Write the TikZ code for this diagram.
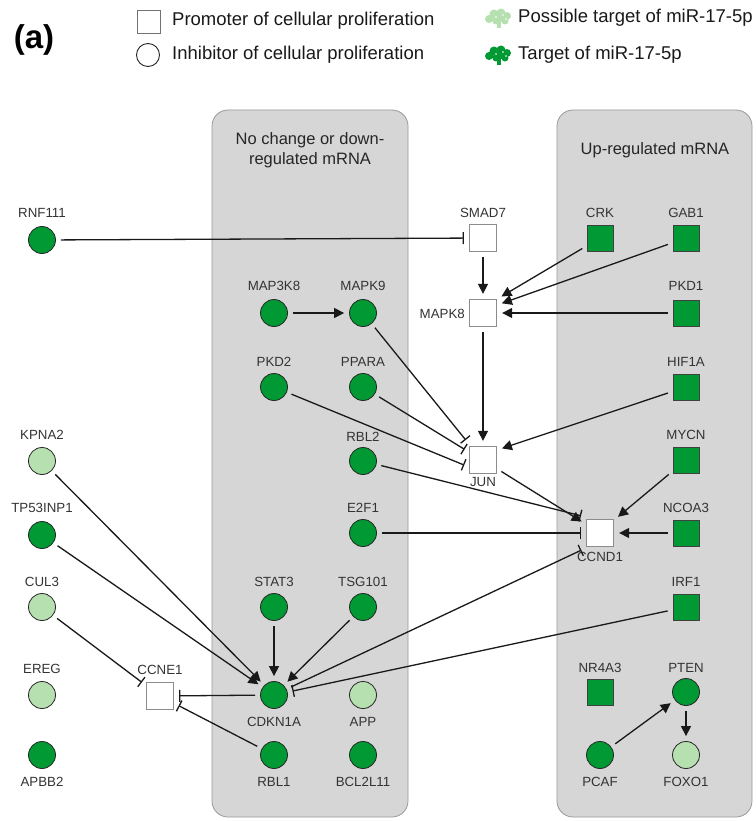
\documentclass[tikz,border=0pt]{standalone}
\usepackage{fontspec}
\setmainfont{Liberation Sans}
\usetikzlibrary{arrows.meta,calc}
\definecolor{gdark}{RGB}{0,153,51}
\definecolor{glight}{RGB}{183,224,176}
\definecolor{panelfill}{RGB}{214,214,214}
\definecolor{labgray}{RGB}{51,51,51}
\tikzset{
  gc/.style={circle,draw=black!85,fill=gdark,minimum size=27pt,inner sep=0pt,line width=0.8pt},
  lc/.style={gc,fill=glight},
  gs/.style={rectangle,draw=black!75,fill=gdark,minimum size=26pt,inner sep=0pt,line width=0.8pt},
  ws/.style={rectangle,draw=black!45,fill=white,minimum size=27pt,inner sep=0pt,line width=1.3pt},
  lab/.style={font=\fontsize{13.3}{14}\selectfont,text=labgray,inner sep=0pt},
  panel/.style={rounded corners=16pt,fill=panelfill,draw=black!40,line width=0.8pt},
  act/.style={-{Triangle[length=10pt,width=10pt]},line width=1.3pt,draw=black!90,shorten >=5pt,shorten <=5pt},
  inh/.style={-{Bar[width=12pt,line width=1.3pt]},line width=1.3pt,draw=black!90,shorten >=5pt,shorten <=5pt},
  legtext/.style={font=\fontsize{18.5}{20}\selectfont,anchor=west,inner sep=0pt,text=black!90},
}
\newcommand\gn[6]{\node[#1] (#2) at (#3,#4) {}; \node[lab] (#2-l) at (#3,#5) {#6};}
\begin{document}
\begin{tikzpicture}[x=1pt,y=-1pt]
\useasboundingbox (0,0) rectangle (755,821);
% panels
\path[panel] (212,110) rectangle (408,817);
\path[panel] (557,110) rectangle (752,817);
\node[font=\fontsize{16.5}{20}\selectfont,align=center,text=black!85] (t1) at (310,150) {No change or down-\\regulated mRNA};
\node[font=\fontsize{16.5}{20}\selectfont,text=black!85] (t2) at (655,150) {Up-regulated mRNA};
% legend
\node[font=\bfseries\fontsize{33}{34}\selectfont] (a) at (34,40) {(a)};
\node[rectangle,draw=black!55,fill=white,minimum size=23pt,line width=0.9pt,inner sep=0pt] (lsq) at (149,22) {};
\node[legtext] (lsqt) at (172,21) {Promoter of cellular proliferation};
\node[circle,draw=black!85,fill=white,minimum size=23pt,line width=0.9pt,inner sep=0pt] (lci) at (148,55) {};
\node[legtext] (lcit) at (172,55) {Inhibitor of cellular proliferation};
\foreach \yy/\cc in {18/glight,55/gdark}{
  \fill[\cc] (489,\yy+1) circle (4) (494,\yy-4) circle (4.5) (501,\yy-5) circle (4.5) (507,\yy-2) circle (4) (505,\yy+3) circle (3.5) (496,\yy+3) circle (3.5) (501,\yy) circle (4);
  \fill[\cc] (497,\yy+3) rectangle (501,\yy+10);
  \fill[white] (496,\yy-1) circle (0.9) (503,\yy-3) circle (0.9) (506,\yy+1) circle (0.8);
}
\node[legtext] (lpt) at (518,18) {Possible target of miR-17-5p};
\node[legtext] (ltt) at (518,55) {Target of miR-17-5p};
% genes
\gn{gc}{rnf111}{42}{240}{213}{RNF111}
\gn{ws}{smad7}{483}{238}{213}{SMAD7}
\gn{gs}{crk}{600}{238}{213}{CRK}
\gn{gs}{gab1}{686}{238}{213}{GAB1}
\gn{gc}{map3k8}{274}{313}{286}{MAP3K8}
\gn{gc}{mapk9}{363}{313}{286}{MAPK9}
\node[ws] (mapk8) at (483,313) {};
\node[lab,anchor=east] (mapk8-l) at (465,314) {MAPK8};
\gn{gs}{pkd1}{686}{313}{286}{PKD1}
\gn{gc}{pkd2}{274}{387}{362}{PKD2}
\gn{gc}{ppara}{363}{387}{362}{PPARA}
\gn{gs}{hif1a}{686}{387}{362}{HIF1A}
\gn{lc}{kpna2}{42}{461}{435}{KPNA2}
\gn{gc}{rbl2}{363}{461}{437}{RBL2}
\gn{ws}{jun}{483}{460}{482}{JUN}
\gn{gs}{mycn}{686}{460}{435}{MYCN}
\gn{gc}{tp53inp1}{42}{535}{508}{TP53INP1}
\gn{gc}{e2f1}{363}{533}{508}{E2F1}
\gn{ws}{ccnd1}{600}{533}{557}{CCND1}
\gn{gs}{ncoa3}{686}{533}{508}{NCOA3}
\gn{lc}{cul3}{42}{607}{582}{CUL3}
\gn{gc}{stat3}{274}{607}{582}{STAT3}
\gn{gc}{tsg101}{363}{607}{582}{TSG101}
\gn{gs}{irf1}{686}{607}{582}{IRF1}
\gn{lc}{ereg}{42}{695}{669}{EREG}
\gn{ws}{ccne1}{160}{696}{670}{CCNE1}
\gn{gc}{cdkn1a}{274}{695}{722}{CDKN1A}
\gn{lc}{app}{363}{695}{722}{APP}
\gn{gs}{nr4a3}{600}{692}{668}{NR4A3}
\gn{gc}{pten}{686}{692}{668}{PTEN}
\gn{gc}{apbb2}{42}{755}{782}{APBB2}
\gn{gc}{rbl1}{274}{755}{782}{RBL1}
\gn{gc}{bcl2l11}{363}{755}{782}{BCL2L11}
\gn{gc}{pcaf}{600}{755}{782}{PCAF}
\gn{lc}{foxo1}{686}{755}{782}{FOXO1}
% edges
\draw[inh] (rnf111) -- (smad7);
\draw[act] (smad7) -- (mapk8);
\draw[act] (crk) -- ($(mapk8.east)+(0,-14)$);
\draw[act] (gab1) -- ($(mapk8.east)+(0,-8)$);
\draw[act] (pkd1) -- (mapk8);
\draw[act] (map3k8) -- (mapk9);
\draw[inh] (mapk9) -- ($(jun.north west)+(0,-2)$);
\draw[act] (mapk8) -- (jun);
\draw[inh] (ppara) -- ($(jun.west)+(0,-8)$);
\draw[inh] (pkd2) -- ($(jun.west)+(0,7)$);
\draw[act] (hif1a) -- ($(jun.east)+(0,-10)$);
\draw[act] (jun) -- (ccnd1);
\draw[act] (mycn) -- ($(ccnd1.east)+(0,-13)$);
\draw[act] (ncoa3) -- (ccnd1);
\draw[inh] (rbl2) -- ($(ccnd1.west)+(0,-16)$);
\draw[inh] (e2f1) -- (ccnd1);
\draw[inh] (cdkn1a) -- ($(ccnd1.west)+(0,15)$);
\draw[inh] (irf1) -- (cdkn1a);
\draw[act] (kpna2) -- (cdkn1a);
\draw[act] (tp53inp1) -- (cdkn1a);
\draw[act] (stat3) -- (cdkn1a);
\draw[act] (tsg101) -- (cdkn1a);
\draw[inh] (cdkn1a) -- (ccne1);
\draw[inh] (cul3) -- (ccne1);
\draw[inh] (rbl1) -- (ccne1);
\draw[act] (pcaf) -- (pten);
\draw[act] (pten) -- (foxo1);
\end{tikzpicture}
\end{document}
